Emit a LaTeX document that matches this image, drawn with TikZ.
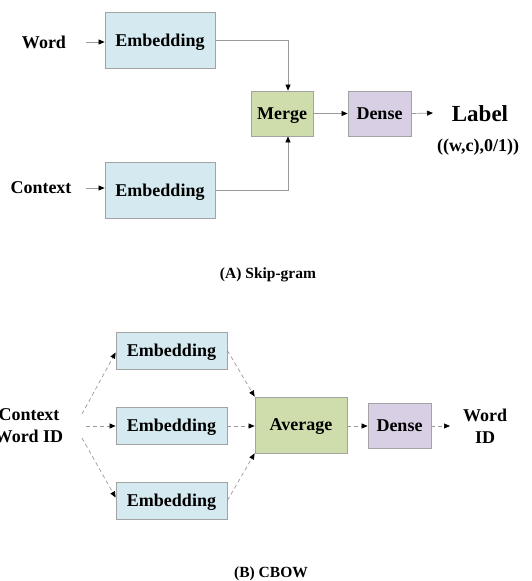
\documentclass[tikz,border=0pt]{standalone}
\usepackage{fontspec}
\setmainfont{Liberation Serif}
\usetikzlibrary{arrows.meta,calc}
\definecolor{embfill}{HTML}{D5EAF0}
\definecolor{mrgfill}{HTML}{CFDDAD}
\definecolor{dnsfill}{HTML}{D8CFE4}
\definecolor{boxline}{HTML}{A3A3A3}
\definecolor{conn}{HTML}{9A9A9A}
\begin{document}
\begin{tikzpicture}[x=1pt,y=-1pt,
  box/.style={draw=boxline,line width=0.8pt,inner sep=0pt,anchor=center,text depth=0pt,
    font=\fontsize{18}{20}\selectfont\bfseries},
  embbox/.style={box,fill=embfill,minimum width=110pt,minimum height=56pt},
  embsmall/.style={box,fill=embfill,minimum width=111pt,minimum height=37pt},
  mrgbox/.style={box,fill=mrgfill},
  dnsbox/.style={box,fill=dnsfill},
  txt/.style={font=\fontsize{18}{22}\selectfont\bfseries,align=center,inner sep=0pt},
  caption/.style={font=\fontsize{15.5}{18}\selectfont\bfseries,inner sep=0pt},
  link/.style={draw=conn,line width=0.7pt,-{Triangle[length=6pt,width=5pt,color=black]}},
  dlink/.style={link,dash pattern=on 4pt off 3pt}]
\useasboundingbox (0,0) rectangle (532,581);

% ---- (A) Skip-gram ----
\node[txt] (word) at (44,42) {Word};
\node[txt] (ctx) at (41,188) {Context};
\node[embbox] (embA) at (160,40.5) {Embedding};
\node[embbox] (embB) at (160,190) {Embedding};
\node[mrgbox,minimum width=62pt,minimum height=45pt] (merge) at (282,113.5) {Merge};
\node[dnsbox,minimum width=63pt,minimum height=45pt] (denseA) at (379.5,113.5) {Dense};
\node[font=\fontsize{23}{26}\selectfont\bfseries,inner sep=0pt] (label) at (480,114) {Label};
\node[txt] (pair) at (478,147) {((w,c),0/1))};
\coordinate (mtop) at ($(merge.north)+(6,0)$);
\coordinate (mbot) at ($(merge.south)+(6,0)$);

\draw[link] (86,42) coordinate (wsrc) -- (embA.west |- wsrc);
\draw[link] (86,188) coordinate (csrc) -- (embB.west |- csrc);
\draw[link] (embA.east) -| (mtop);
\draw[link] (embB.east) -| (mbot);
\draw[link] (merge.east) -- (denseA.west);
\draw[link] (denseA.east) -- (433,113) coordinate (lbl);

\node[caption] (capA) at (268,275) {(A) Skip-gram};

% ---- (B) CBOW ----
\node[txt] (cw) at (29,426) {Context\\Word ID};
\node[embsmall] (e1) at (171.5,350.5) {Embedding};
\node[embsmall] (e2) at (171.5,425.5) {Embedding};
\node[embsmall] (e3) at (171.5,500.5) {Embedding};
\node[mrgbox,minimum width=92pt,minimum height=56pt] (avg) at (301,425) {Average};
\node[dnsbox,minimum width=63pt,minimum height=45pt] (denseB) at (399.5,425.5) {Dense};
\node[txt] (wid) at (485,426) {Word\\ID};

\coordinate (s1) at (82,414);
\coordinate (s2) at (86,426);
\coordinate (s3) at (82,438);
\draw[dlink] (s1) -- ($(e1.west)+(0,2)$);
\draw[dlink] (s2) -- (e2.west |- s2);
\draw[dlink] (s3) -- ($(e3.west)+(0,-3)$);
\draw[dlink] (e1.east) -- (avg.north west);
\draw[dlink] (e2.east |- s2) -- (avg.west |- s2);
\draw[dlink] (e3.east) -- (avg.south west);
\draw[dlink] (avg.east |- s2) -- (denseB.west |- s2);
\draw[dlink] (denseB.east |- s2) -- (450,426);

\node[caption] (capB) at (271,574) {(B) CBOW};
\end{tikzpicture}
\end{document}
